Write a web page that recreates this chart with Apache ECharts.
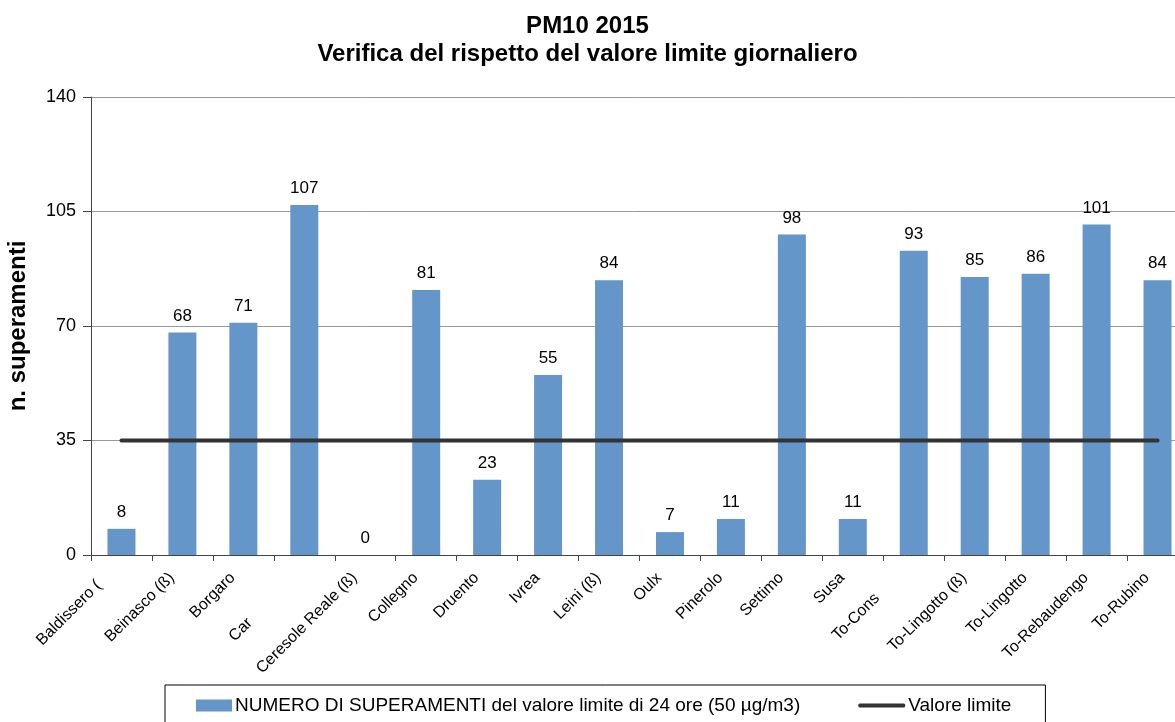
<!DOCTYPE html>
<html>
<head>
<meta charset="utf-8">
<script src="https://cdn.jsdelivr.net/npm/echarts@6/dist/echarts.min.js"></script>
<style>html,body{margin:0;padding:0;background:#fff;}#c{width:1175px;height:722px;}</style>
</head>
<body>
<div id="c"></div>
<script>
var categories = ["Baldissero (", "Beinasco (ß)", "Borgaro", "Car", "Ceresole Reale (ß)", "Collegno", "Druento", "Ivrea", "Leini (ß)", "Oulx", "Pinerolo", "Settimo", "Susa", "To-Cons", "To-Lingotto (ß)", "To-Lingotto", "To-Rebaudengo", "To-Rubino"];
var superamenti = [8, 68, 71, 107, 0, 81, 23, 55, 84, 7, 11, 98, 11, 93, 85, 86, 101, 84];
var valoreLimite = [35, 35, 35, 35, 35, 35, 35, 35, 35, 35, 35, 35, 35, 35, 35, 35, 35, 35];
var yTicks = [0, 35, 70, 105, 140];
var barName = 'NUMERO DI SUPERAMENTI del valore limite di 24 ore (50 µg/m3)';
var lineName = 'Valore limite';
var richKey = { "Baldissero (": "b", "Car": "c", "To-Cons": "t" };

var chart = echarts.init(document.getElementById('c'));
var font = 'Liberation Sans, Arial, sans-serif';
var lab = { fontSize: 16, color: '#000', fontFamily: font };
chart.setOption({
  animation: false,
  textStyle: { fontFamily: font },
  title: {
    text: 'PM10 2015\nVerifica del rispetto del valore limite giornaliero',
    left: 'center', top: 7,
    textStyle: { fontSize: 24, fontWeight: 'bold', color: '#000', lineHeight: 28, fontFamily: font }
  },
  grid: { left: 91, right: -13, top: 97, bottom: 167, containLabel: false, outerBoundsMode: 'none' },
  legend: {
    left: 165, top: 685,
    borderColor: '#000', borderWidth: 1,
    padding: [11, 34, 20, 20],
    itemGap: 58, itemWidth: 47, itemHeight: 12,
    textStyle: { fontSize: 19, color: '#000', fontFamily: font, padding: [0, 0, 0, -2] },
    data: [
      { name: barName, icon: 'path://M-11,6L-11,6M0,0L36,0L36,12L0,12Z' },
      { name: lineName, icon: 'path://M0,0L0,0M0,12L0,12M1.5,4L45.5,4Q47,4 47,6Q47,8 45.5,8L1.5,8Q0,8 0,6Q0,4 1.5,4Z' }
    ]
  },
  xAxis: {
    type: 'category', data: categories,
    boundaryGap: true,
    axisLine: { lineStyle: { color: '#444', width: 1 } },
    axisTick: { show: true, length: 6, lineStyle: { color: '#444' } },
    axisLabel: Object.assign({
      rotate: 45, margin: 14, interval: 0, padding: [0, 12, 6, 0],
      formatter: function (v) { return richKey[v] ? '{' + richKey[v] + '|' + v + '}' : v; },
      rich: {
        b: Object.assign({ padding: [0, 14, 6, 0] }, lab),
        c: Object.assign({ padding: [2, 63, 0, 0] }, lab),
        t: Object.assign({ padding: [0, 33, 8, 0] }, lab)
      }
    }, lab)
  },
  yAxis: {
    type: 'value', min: 0, max: 140, interval: 35,
    name: 'n. superamenti', nameLocation: 'middle', nameGap: 61, nameRotate: 90,
    nameTextStyle: { fontSize: 24, fontWeight: 'bold', color: '#000', fontFamily: font },
    axisLine: { show: true, lineStyle: { color: '#444', width: 1 } },
    axisTick: { show: true, length: 8, lineStyle: { color: '#444' } },
    axisLabel: { fontSize: 18, color: '#000', margin: 15, fontFamily: font,
      formatter: function (v) { return yTicks.indexOf(v) >= 0 ? String(v) : ''; } },
    splitLine: { show: true, lineStyle: { color: '#999', width: 1 } }
  },
  series: [
    {
      name: barName,
      type: 'bar', data: superamenti, barWidth: 28,
      itemStyle: { color: '#6596c9' },
      label: { show: true, position: 'top', distance: 8, fontSize: 17, color: '#000', fontFamily: font }
    },
    {
      name: lineName, type: 'line', data: valoreLimite,
      symbol: 'none', lineStyle: { color: '#333', width: 4, cap: 'round' }, itemStyle: { color: '#333' }
    }
  ]
});
</script>
</body>
</html>
